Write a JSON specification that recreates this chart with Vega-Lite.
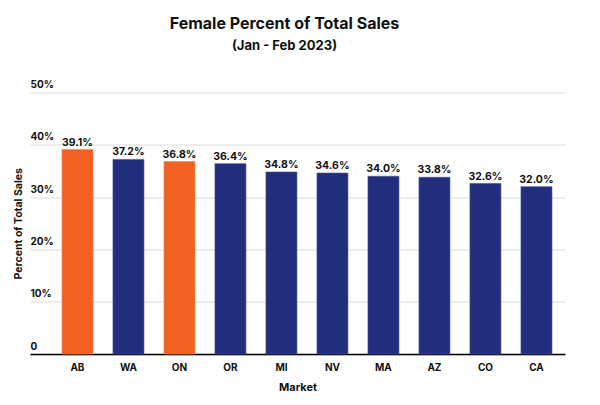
{
  "$schema": "https://vega.github.io/schema/vega-lite/v6.json",
  "width": 535,
  "height": 261.5,
  "autosize": {"type": "none"},
  "padding": {"left": 30, "top": 92.5, "right": 35, "bottom": 51},
  "background": "white",
  "title": {
    "text": "Female Percent of Total Sales",
    "subtitle": "(Jan - Feb 2023)",
    "anchor": "middle",
    "dx": -13,
    "offset": 27,
    "font": "Inter",
    "fontSize": 16,
    "fontWeight": "bold",
    "color": "#111111",
    "subtitleFont": "Inter",
    "subtitleFontSize": 13,
    "subtitleFontWeight": "bold",
    "subtitleColor": "#111111",
    "subtitlePadding": 8
  },
  "data": {
    "values": [
      {"market": "AB", "pct": 0.391, "group": "highlight"},
      {"market": "WA", "pct": 0.372, "group": "base"},
      {"market": "ON", "pct": 0.368, "group": "highlight"},
      {"market": "OR", "pct": 0.364, "group": "base"},
      {"market": "MI", "pct": 0.348, "group": "base"},
      {"market": "NV", "pct": 0.346, "group": "base"},
      {"market": "MA", "pct": 0.340, "group": "base"},
      {"market": "AZ", "pct": 0.338, "group": "base"},
      {"market": "CO", "pct": 0.326, "group": "base"},
      {"market": "CA", "pct": 0.320, "group": "base"}
    ]
  },
  "config": {
    "view": {"stroke": null},
    "font": "Inter"
  },
  "encoding": {
    "x": {
      "field": "market",
      "type": "nominal",
      "sort": null,
      "scale": {"paddingInner": 0.392, "paddingOuter": 0.441, "align": 0.71},
      "axis": {
        "title": "Market",
        "titleFont": "Inter",
        "titleFontSize": 11,
        "titleFontWeight": "bold",
        "titleColor": "#111111",
        "titlePadding": 9,
        "labelAngle": 0,
        "labelFont": "Inter",
        "labelFontSize": 10,
        "labelFontWeight": "bold",
        "labelColor": "#111111",
        "labelPadding": 8,
        "ticks": false,
        "domainColor": "#000000",
        "domainWidth": 1.5,
        "grid": false
      }
    },
    "y": {
      "field": "pct",
      "type": "quantitative",
      "scale": {"domain": [0, 0.5]},
      "axis": {
        "title": "Percent of Total Sales",
        "titleFont": "Inter",
        "titleFontSize": 10.5,
        "titleFontWeight": "bold",
        "titleColor": "#111111",
        "titleX": -12,
        "titleY": 130.75,
        "titleAlign": "center",
        "titleBaseline": "middle",
        "values": [0, 0.1, 0.2, 0.3, 0.4, 0.5],
        "format": ".0%",
        "labelExpr": "datum.value == 0 ? '0' : datum.label",
        "labelAlign": "left",
        "labelBaseline": "bottom",
        "labelPadding": 0,
        "labelOffset": -3,
        "labelFont": "Inter",
        "labelFontSize": 10,
        "labelFontWeight": "bold",
        "labelColor": "#111111",
        "ticks": false,
        "domain": false,
        "grid": true,
        "gridColor": "#dcdcdc",
        "gridWidth": 1
      }
    }
  },
  "layer": [
    {
      "mark": {"type": "bar", "strokeWidth": 0.6},
      "encoding": {
        "color": {
          "field": "group",
          "type": "nominal",
          "scale": {"domain": ["highlight", "base"], "range": ["#F26122", "#232D7E"]},
          "legend": null
        },
        "stroke": {
          "field": "group",
          "type": "nominal",
          "scale": {"domain": ["highlight", "base"], "range": ["#f58a5c", "#4a5396"]},
          "legend": null
        }
      }
    },
    {
      "mark": {
        "type": "text",
        "baseline": "bottom",
        "dy": -2,
        "font": "Inter",
        "fontSize": 10.5,
        "fontWeight": "bold",
        "color": "#111111"
      },
      "encoding": {
        "text": {"field": "pct", "type": "quantitative", "format": ".1%"}
      }
    }
  ]
}
